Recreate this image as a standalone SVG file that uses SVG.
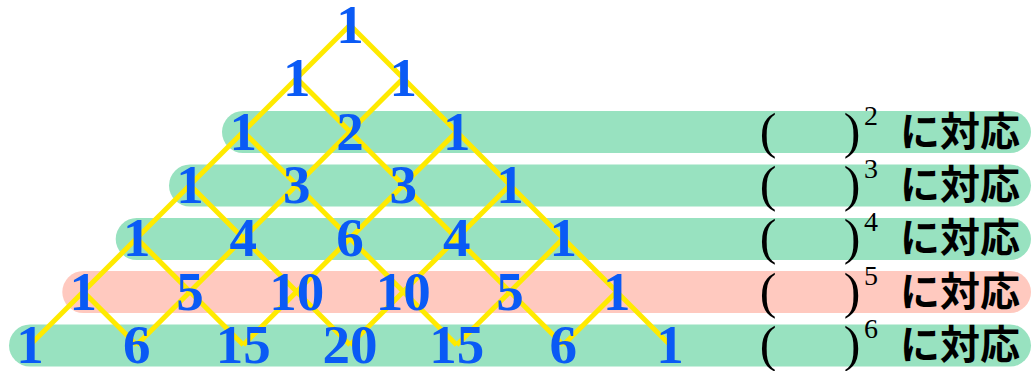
<svg xmlns="http://www.w3.org/2000/svg" width="1032" height="371" viewBox="0 0 1032 371">
<style>
.bar{fill:#98e2c0}
.bar.pink{fill:#ffc9bf}
.num{font-family:"Liberation Serif",serif;font-weight:bold;font-size:55px;fill:#0a5af5;text-anchor:middle}
.par{font-family:"Liberation Serif",serif;font-size:50px;fill:#000;text-anchor:middle}
.sup{font-family:"Liberation Serif",serif;font-size:28px;fill:#000;text-anchor:middle}
.jp{font-family:"Noto Sans CJK JP","Noto Sans",sans-serif;font-weight:bold;font-size:40px;fill:#000}
.lat{stroke:#ffea00;stroke-width:5;fill:none}
</style>
<g id="bars">
<rect class="bar" x="222" y="111" width="809" height="42" rx="21"/>
<rect class="bar" x="169" y="164.5" width="862" height="42" rx="21"/>
<rect class="bar" x="115.7" y="218" width="915.3" height="42" rx="21"/>
<rect class="bar pink" x="62.3" y="271" width="968.7" height="42" rx="21"/>
<rect class="bar" x="9" y="324.5" width="1022" height="42" rx="21"/>
</g>
<g id="labels">
<g id="label-2"><text class="par" x="768" y="148">(</text><text class="par" x="852" y="148">)</text><text class="sup" x="871" y="125">2</text><text class="jp" x="900" y="146">に対応</text></g>
<g id="label-3"><text class="par" x="768" y="201">(</text><text class="par" x="852" y="201">)</text><text class="sup" x="871" y="178">3</text><text class="jp" x="900" y="199">に対応</text></g>
<g id="label-4"><text class="par" x="768" y="254">(</text><text class="par" x="852" y="254">)</text><text class="sup" x="871" y="231">4</text><text class="jp" x="900" y="252">に対応</text></g>
<g id="label-5"><text class="par" x="768" y="308">(</text><text class="par" x="852" y="308">)</text><text class="sup" x="871" y="285">5</text><text class="jp" x="900" y="306">に対応</text></g>
<g id="label-6"><text class="par" x="768" y="361">(</text><text class="par" x="852" y="361">)</text><text class="sup" x="871" y="338">6</text><text class="jp" x="900" y="359">に対応</text></g>
</g>
<g id="connectors" class="lat">
<line x1="350" y1="25" x2="30" y2="345"/>
<line x1="403.33" y1="78.33" x2="136.67" y2="345"/>
<line x1="456.67" y1="131.67" x2="243.33" y2="345"/>
<line x1="510" y1="185" x2="350" y2="345"/>
<line x1="563.33" y1="238.33" x2="456.67" y2="345"/>
<line x1="616.67" y1="291.67" x2="563.33" y2="345"/>
<line x1="350" y1="25" x2="670" y2="345"/>
<line x1="296.67" y1="78.33" x2="563.33" y2="345"/>
<line x1="243.33" y1="131.67" x2="456.67" y2="345"/>
<line x1="190" y1="185" x2="350" y2="345"/>
<line x1="136.67" y1="238.33" x2="243.33" y2="345"/>
<line x1="83.33" y1="291.67" x2="136.67" y2="345"/>
</g>
<g id="n0-0"><text class="num" x="350" y="43">1</text></g>
<g id="n1-0"><text class="num" x="296.67" y="96.33">1</text></g>
<g id="n1-1"><text class="num" x="403.33" y="96.33">1</text></g>
<g id="n2-0"><text class="num" x="243.33" y="149.67">1</text></g>
<g id="n2-1"><text class="num" x="350" y="149.67">2</text></g>
<g id="n2-2"><text class="num" x="456.67" y="149.67">1</text></g>
<g id="n3-0"><text class="num" x="190" y="203">1</text></g>
<g id="n3-1"><text class="num" x="296.67" y="203">3</text></g>
<g id="n3-2"><text class="num" x="403.33" y="203">3</text></g>
<g id="n3-3"><text class="num" x="510" y="203">1</text></g>
<g id="n4-0"><text class="num" x="136.67" y="256.33">1</text></g>
<g id="n4-1"><text class="num" x="243.33" y="256.33">4</text></g>
<g id="n4-2"><text class="num" x="350" y="256.33">6</text></g>
<g id="n4-3"><text class="num" x="456.67" y="256.33">4</text></g>
<g id="n4-4"><text class="num" x="563.33" y="256.33">1</text></g>
<g id="n5-0"><text class="num" x="83.33" y="309.67">1</text></g>
<g id="n5-1"><text class="num" x="190" y="309.67">5</text></g>
<g id="n5-2"><text class="num" x="296.67" y="309.67">10</text></g>
<g id="n5-3"><text class="num" x="403.33" y="309.67">10</text></g>
<g id="n5-4"><text class="num" x="510" y="309.67">5</text></g>
<g id="n5-5"><text class="num" x="616.67" y="309.67">1</text></g>
<g id="n6-0"><text class="num" x="30" y="363">1</text></g>
<g id="n6-1"><text class="num" x="136.67" y="363">6</text></g>
<g id="n6-2"><text class="num" x="243.33" y="363">15</text></g>
<g id="n6-3"><text class="num" x="350" y="363">20</text></g>
<g id="n6-4"><text class="num" x="456.67" y="363">15</text></g>
<g id="n6-5"><text class="num" x="563.33" y="363">6</text></g>
<g id="n6-6"><text class="num" x="670" y="363">1</text></g>
</svg>
